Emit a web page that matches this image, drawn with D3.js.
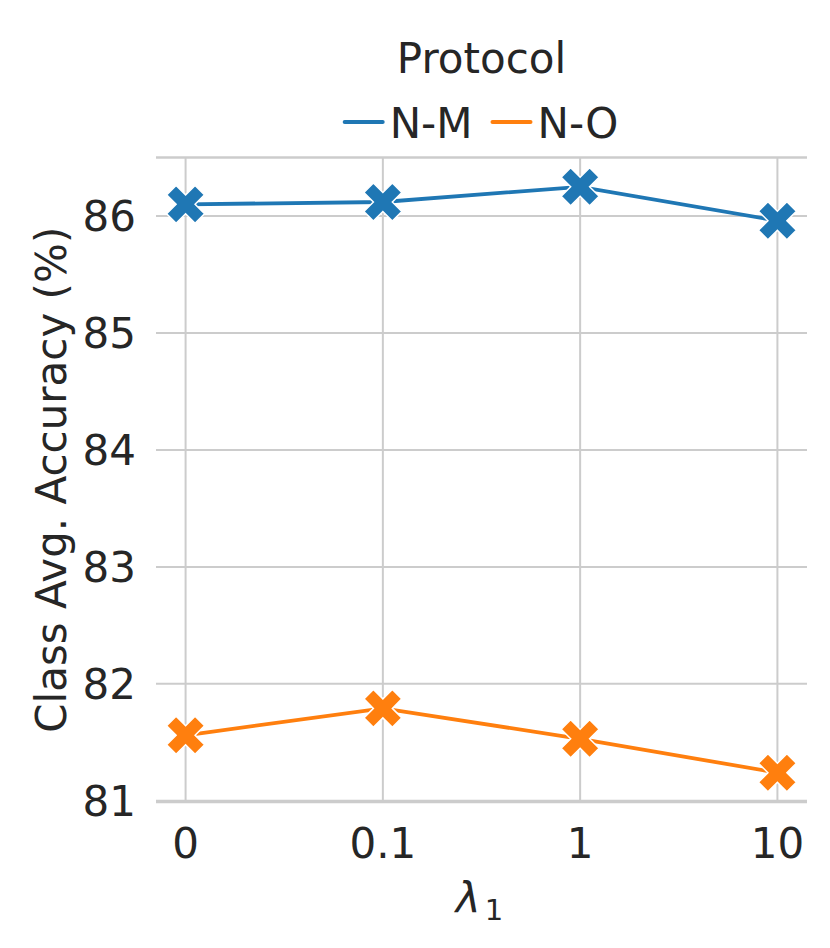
<!DOCTYPE html>
<html>
<head>
<meta charset="utf-8">
<script src="https://cdn.jsdelivr.net/npm/d3@7.9.0/dist/d3.min.js"></script>
<style>
  body { margin: 0; background: #fff; }
  svg { display: block; font-family: "DejaVu Sans", sans-serif; }
  text { fill: #262626; }
</style>
</head>
<body>
<svg id="chart" width="830" height="948"></svg>
<script>
// data
const lambdas = ['0', '0.1', '1', '10'];
const protocols = ['N-M', 'N-O'];
const nmValues = [86.10, 86.12, 86.25, 85.96];
const noValues = [81.56, 81.79, 81.53, 81.24];
const yTicks = [81, 82, 83, 84, 85, 86];
const colors = ['#1f77b4', '#ff7f0e'];

const series = [nmValues, noValues];

// plot box (window.top is taken, so prefix these)
const plotLeft = 156, plotRight = 807, plotTop = 157.5, plotBottom = 802;
const fontSize = 42;

const svg = d3.select('#chart');

// x: categorical positions with matplotlib-like margins
const x = d3.scalePoint()
  .domain(lambdas)
  .range([plotLeft, plotRight])
  .padding(0.15);

// y: autoscaled with 5% margins
const allValues = nmValues.concat(noValues);
const [lo, hi] = d3.extent(allValues);
const pad = (hi - lo) * 0.05;
const y = d3.scaleLinear()
  .domain([lo - pad, hi + pad])
  .range([plotBottom, plotTop]);

// grid lines
const grid = svg.append('g').attr('stroke', '#cccccc').attr('stroke-width', 2);
lambdas.forEach(d => {
  grid.append('line')
    .attr('x1', x(d)).attr('x2', x(d))
    .attr('y1', plotTop).attr('y2', plotBottom);
});
yTicks.forEach(t => {
  grid.append('line')
    .attr('x1', plotLeft).attr('x2', plotRight)
    .attr('y1', y(t)).attr('y2', y(t));
});

// top and bottom spines
[plotTop, plotBottom].forEach(yy => {
  svg.append('line')
    .attr('x1', plotLeft).attr('x2', plotRight)
    .attr('y1', yy).attr('y2', yy)
    .attr('stroke', '#cccccc').attr('stroke-width', 2.5);
});

// tick labels
svg.append('g')
  .selectAll('text')
  .data(yTicks)
  .join('text')
  .attr('x', 136)
  .attr('y', d => y(d))
  .attr('dy', '0.36em')
  .attr('text-anchor', 'end')
  .attr('font-size', fontSize)
  .text(d => d);

svg.append('g')
  .selectAll('text')
  .data(lambdas)
  .join('text')
  .attr('x', d => x(d))
  .attr('y', 858)
  .attr('text-anchor', 'middle')
  .attr('font-size', fontSize)
  .text(d => d);

// axis labels
svg.append('text')
  .attr('transform', `translate(66, ${(plotTop + plotBottom) / 2}) rotate(-90)`)
  .attr('text-anchor', 'middle')
  .attr('font-size', fontSize)
  .text('Class Avg. Accuracy (%)');

const xLabel = svg.append('text')
  .attr('x', (plotLeft + plotRight) / 2 - 2)
  .attr('y', 913)
  .attr('text-anchor', 'middle')
  .attr('font-size', fontSize);
xLabel.append('tspan').attr('font-style', 'italic').text('λ');
xLabel.append('tspan').attr('font-size', 29).attr('dx', 4).attr('dy', 7).text('1');

// lines and markers
const line = d3.line()
  .x((d, i) => x(lambdas[i]))
  .y(d => y(d));

const marker = d3.symbol().type(d3.symbolCross).size(900);

series.forEach((vals, s) => {
  svg.append('path')
    .attr('d', line(vals))
    .attr('fill', 'none')
    .attr('stroke', colors[s])
    .attr('stroke-width', 3.8);

  svg.append('g')
    .selectAll('path')
    .data(vals)
    .join('path')
    .attr('d', marker)
    .attr('transform', (d, i) => `translate(${x(lambdas[i])}, ${y(d)}) rotate(45)`)
    .attr('fill', colors[s])
    .attr('stroke', '#ffffff')
    .attr('stroke-width', 1.5);
});

// legend
const legendCenter = (plotLeft + plotRight) / 2;
svg.append('text')
  .attr('x', legendCenter)
  .attr('y', 73)
  .attr('text-anchor', 'middle')
  .attr('font-size', fontSize)
  .text('Protocol');

const legend = svg.append('g');
const handleLen = 38, handleGap = 7, colGap = 20;
let cursor = 0;
protocols.forEach((p, i) => {
  const item = legend.append('g').attr('transform', `translate(${cursor}, 0)`);
  item.append('line')
    .attr('x1', 0).attr('x2', handleLen)
    .attr('y1', 122).attr('y2', 122)
    .attr('stroke', colors[i])
    .attr('stroke-width', 4)
    .attr('stroke-linecap', 'round');
  const label = item.append('text')
    .attr('x', handleLen + handleGap)
    .attr('y', 138)
    .attr('font-size', fontSize)
    .text(p);
  cursor += handleLen + handleGap + label.node().getComputedTextLength() + colGap;
});
const legendWidth = cursor - colGap;
legend.attr('transform', `translate(${legendCenter - legendWidth / 2}, 0)`);
</script>
</body>
</html>
